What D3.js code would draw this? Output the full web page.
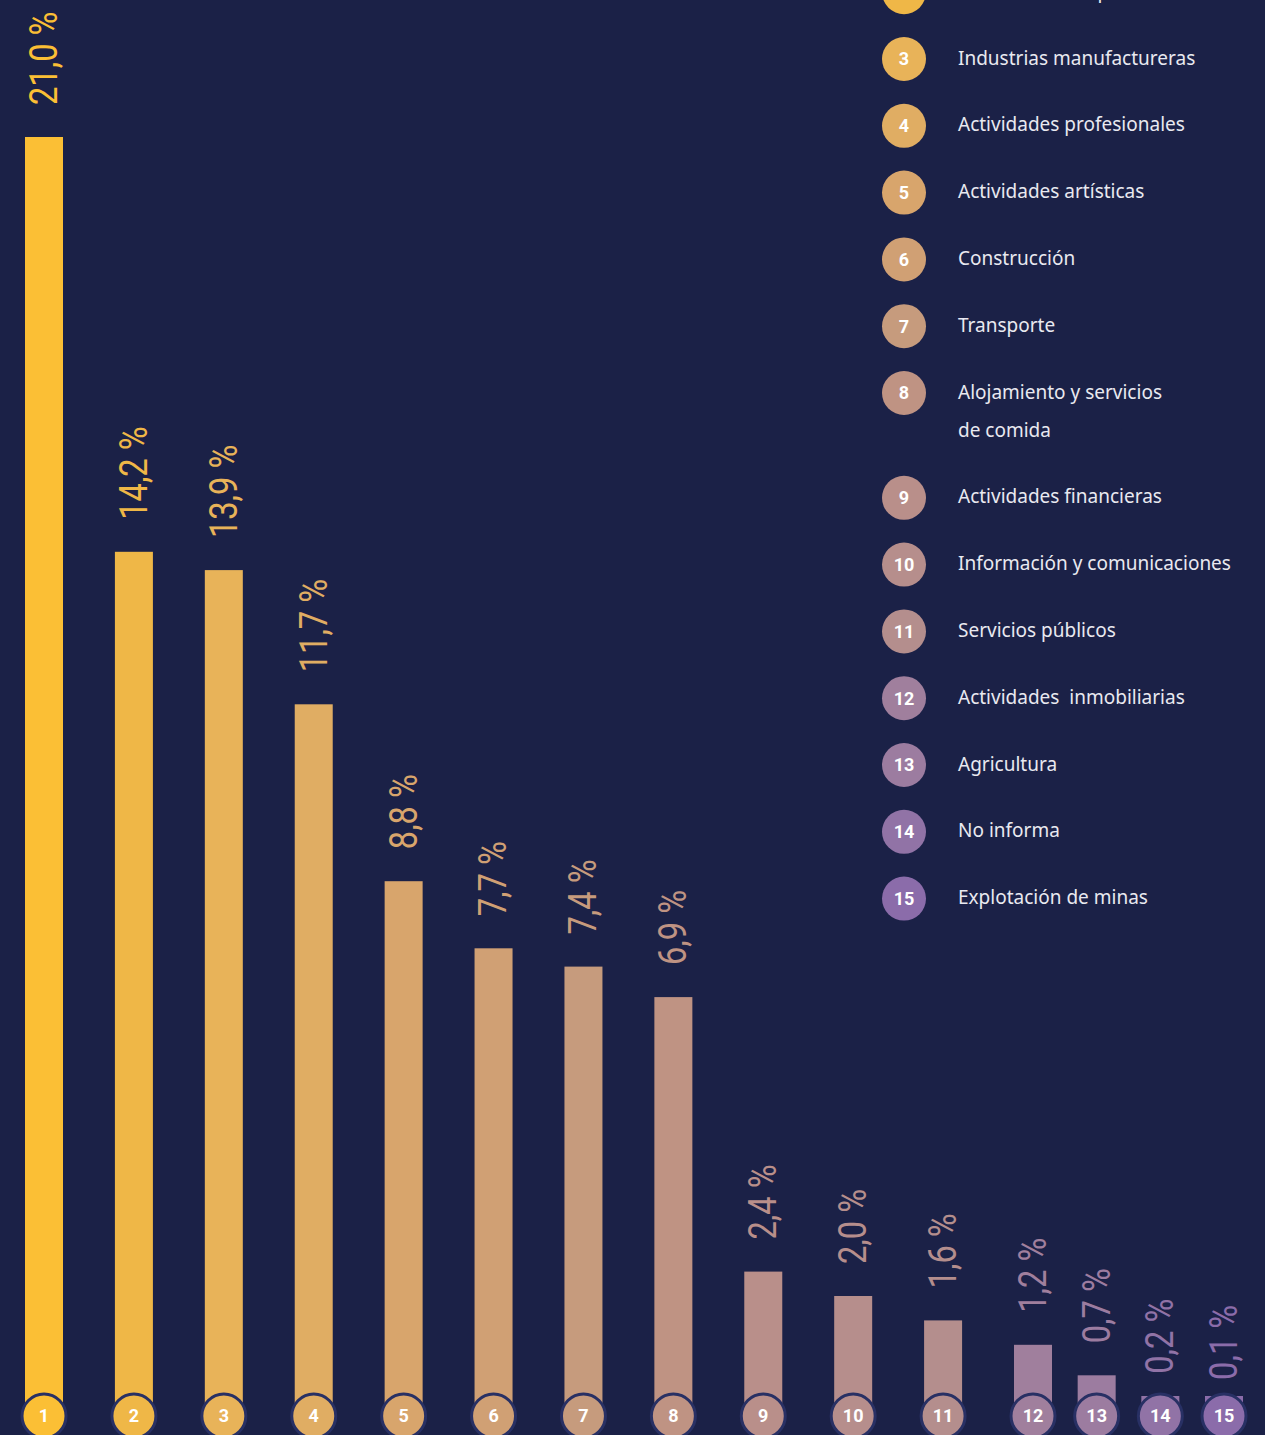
<!DOCTYPE html>
<html>
<head>
<meta charset="utf-8">
<script src="https://cdn.jsdelivr.net/npm/d3@7"></script>
<style>
	html, body { margin: 0; padding: 0; background: #1b2147; }
	svg { display: block; }
</style>
</head>
<body>
<div id="chart"></div>
<script>
// data
const ranks = [1, 2, 3, 4, 5, 6, 7, 8, 9, 10, 11, 12, 13, 14, 15];
const shares = [21.0, 14.2, 13.9, 11.7, 8.8, 7.7, 7.4, 6.9, 2.4, 2.0, 1.6, 1.2, 0.7, 0.2, 0.1];
const sectors = [
	['Comercio'],
	['Administración pública'],
	['Industrias manufactureras'],
	['Actividades profesionales'],
	['Actividades artísticas'],
	['Construcción'],
	['Transporte'],
	['Alojamiento y servicios', 'de comida'],
	['Actividades financieras'],
	['Información y comunicaciones'],
	['Servicios públicos'],
	['Actividades  inmobiliarias'],
	['Agricultura'],
	['No informa'],
	['Explotación de minas']
];

// palette, gold to purple
const colors = ['#fbbf35', '#efb747', '#e8b359', '#e0ad63', '#d8a56c', '#d0a074', '#c69b7d', '#bf9383',
	'#b98f8a', '#b68e8c', '#b48e8d', '#a07f9d', '#9c7ca0', '#9173a6', '#8b6caa'];

const width = 1265;
const height = 1435;
const BAR_W = 38;
const R = 22;

const data = ranks.map((r, i) => ({ rank: r, value: shares[i], lines: sectors[i], color: colors[i] }));

const $svg = d3.select('#chart').append('svg')
	.attr('width', width)
	.attr('height', height)
	.style('background', '#1b2147');

// scales
// last three columns are squeezed together against the right edge
const scaleX = d3.scaleLinear().domain([1, 12, 15]).range([44, 1033, 1224]);
const scaleY = d3.scaleLinear().domain([0, 21]).range([1418, 137]);

// bars (tiny values keep a sliver above the badge)
const barTop = d => Math.min(scaleY(d.value), scaleY(0) - 22);
$svg.append('g').attr('class', 'bars')
	.selectAll('rect')
	.data(data)
	.join('rect')
	.attr('x', d => scaleX(d.rank) - BAR_W / 2)
	.attr('width', BAR_W)
	.attr('y', barTop)
	.attr('height', d => scaleY(0) - barTop(d))
	.attr('fill', d => d.color);

// value labels, rotated and condensed
const fmt = v => d3.format('.1f')(v).replace('.', ',') + ' %';
$svg.append('g').attr('class', 'values')
	.selectAll('text')
	.data(data)
	.join('text')
	.attr('transform', d => `translate(${scaleX(d.rank)}, ${scaleY(d.value) - 32}) rotate(-90) scale(0.86, 1)`)
	.attr('dominant-baseline', 'central')
	.attr('fill', d => d.color)
	.style('font-family', 'Roboto, "Noto Sans", sans-serif')
	.style('font-size', '38px')
	.text(d => fmt(d.value));

// rank badges at the base
const $badge = $svg.append('g').attr('class', 'badges')
	.selectAll('g')
	.data(data)
	.join('g')
	.attr('transform', d => `translate(${scaleX(d.rank)}, ${scaleY(0) - 2})`);

$badge.append('circle')
	.attr('r', R)
	.attr('fill', d => d.color)
	.attr('stroke', '#283064')
	.attr('stroke-width', 3);

$badge.append('text')
	.attr('text-anchor', 'middle')
	.attr('dy', '0.36em')
	.attr('fill', '#fff')
	.style('font-family', 'Roboto, "Noto Sans", sans-serif')
	.style('font-weight', 700)
	.style('font-size', '18px')
	.text(d => d.rank);

// legend
const STEP = 66.8;
const LINE = 38;
let yPos = 59 - 2 * STEP;
const legendRows = data.map(d => {
	const row = { ...d, y: yPos };
	yPos += STEP + (d.lines.length - 1) * LINE;
	return row;
});

const $item = $svg.append('g').attr('class', 'legend')
	.selectAll('g')
	.data(legendRows)
	.join('g')
	.attr('transform', d => `translate(904, ${d.y})`);

$item.append('circle')
	.attr('r', R)
	.attr('fill', d => d.color);

$item.append('text')
	.attr('text-anchor', 'middle')
	.attr('dy', '0.36em')
	.attr('fill', '#fff')
	.style('font-family', 'Roboto, "Noto Sans", sans-serif')
	.style('font-weight', 700)
	.style('font-size', '18px')
	.text(d => d.rank);

$item.append('text')
	.attr('fill', '#e9e9f0')
	.style('font-family', '"Noto Sans", sans-serif')
	.style('font-size', '19px')
	.selectAll('tspan')
	.data(d => d.lines)
	.join('tspan')
	.attr('x', 54)
	.attr('y', (d, i) => i * LINE - 1)
	.attr('dy', '0.35em')
	.style('white-space', 'pre')
	.text(d => d);
</script>
</body>
</html>
